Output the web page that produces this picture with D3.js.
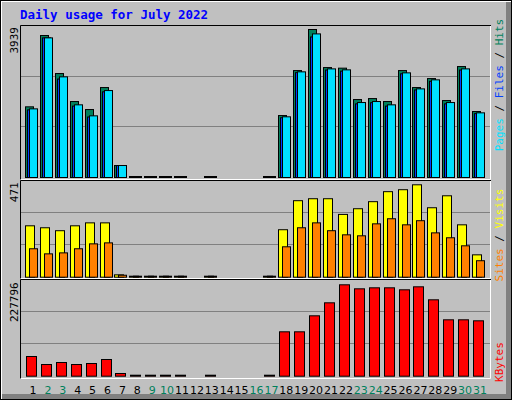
<!DOCTYPE html>
<html>
<meta charset="utf-8">
<style>
body { margin:0; background:#c0c0c0; }
text { font-family: 'DejaVu Sans Mono', monospace; }
</style>
<script src="https://d3js.org/d3.v7.min.js"></script>
<body>
<div id="chart"></div>
<script>
var days = d3.range(1, 32);
var weekend = [2, 3, 9, 10, 16, 17, 23, 24, 30, 31];
var hits  = [1881,3779,2767,2022,1809,2394,319,20,20,20,20,0,20,0,0,0,20,1649,2846,3939,2926,2910,2075,2101,2022,2846,2394,2633,2048,2953,1756];
var files = [1800,3716,2620,1900,1610,2280,319,20,20,20,20,0,20,0,0,0,20,1590,2790,3740,2860,2830,1960,1990,1900,2760,2330,2560,1960,2860,1700];
var pages = [1827,3716,2679,1934,1641,2314,319,20,20,20,20,0,20,0,0,0,20,1615,2812,3822,2891,2865,1995,2022,1934,2785,2359,2599,1995,2891,1721];
var visits = [262,252,237,262,277,277,12,2,2,2,2,0,2,0,0,0,2,242,390,400,400,320,349,385,436,446,471,354,415,267,114];
var sites  = [145,119,124,145,170,175,10,2,2,2,2,0,2,0,0,0,2,155,252,277,237,216,211,272,298,267,288,226,201,160,84];
var kbytes = [49100,29150,34140,29150,31650,41620,6730,600,600,600,600,0,600,0,0,0,600,110640,110640,150520,182910,227796,217800,220290,220290,215310,222790,190390,140550,140550,138060];
var maxLabels = ["3939", "471", "227796"];

var W = 512, H = 400;
var svg = d3.select("#chart").append("svg").attr("width", W).attr("height", H);

// frame
svg.append("rect").attr("x", 0).attr("y", 0).attr("width", W).attr("height", H).attr("fill", "#c0c0c0");
svg.append("path").attr("d", "M1,399 V1 H511").attr("fill", "none").attr("stroke", "#fff").attr("stroke-width", 2);
svg.append("path").attr("d", "M2,396.5 H508.5 V2").attr("fill", "none").attr("stroke", "#808080").attr("stroke-width", 5);
svg.append("rect").attr("x", 0.5).attr("y", 0.5).attr("width", W - 1).attr("height", H - 1).attr("fill", "none").attr("stroke", "#000");

svg.append("text").attr("x", 20).attr("y", 19).attr("fill", "#0000ff")
   .attr("font-size", 12.5).attr("font-weight", "bold").text("Daily usage for July 2022");

var x = d3.scaleLinear().domain([1, 31]).range([33, 480]);

var panels = [
  { top: 25, bottom: 180, base: 177, maxY: 29, max: 3939 },
  { top: 180, bottom: 279, base: 276.7, maxY: 184.3, max: 471 },
  { top: 279, bottom: 379, base: 375.7, maxY: 284.3, max: 227796 }
];

panels.forEach(function(p, i) {
  p.y = d3.scaleLinear().domain([0, p.max]).range([p.base, p.maxY]);
  var g = svg.append("g");
  g.append("rect").attr("x", 20).attr("y", p.top).attr("width", 471).attr("height", p.bottom - p.top).attr("fill", "#c0c0c0");
  var h = p.bottom - p.top;
  [1/3, 2/3].forEach(function(f) {
    var yy = Math.round(p.base - (p.base - p.top) * f) + 0.5;
    g.append("line").attr("x1", 21).attr("x2", 490).attr("y1", yy).attr("y2", yy)
     .attr("stroke", "#808080");
  });
  g.append("path").attr("d", "M20.5," + (p.bottom) + " V" + (p.top + 0.5) + " H491")
   .attr("fill", "none").attr("stroke", "#000");
  g.append("path").attr("d", "M20.5," + (p.bottom - 0.5) + " H490.5 V" + (p.top + 1))
   .attr("fill", "none").attr("stroke", "#fff");
  var lab = maxLabels[i];
  var ly = p.maxY - 2;
  g.append("text").attr("transform", "translate(18," + ly + ") rotate(-90)")
   .attr("text-anchor", "end").attr("font-size", 11).attr("fill", "#000").text(lab);
});

function bars(data, p, dx, w, color) {
  svg.append("g").selectAll("rect").data(days.filter(function(d) { return data[d - 1] > 0; }))
    .enter().append("rect")
    .attr("x", function(d) { return Math.round(x(d)) + dx + 0.5; })
    .attr("y", function(d) { return Math.min(p.y(data[d - 1]), p.base - 1) + 0.5; })
    .attr("width", w)
    .attr("height", function(d) { return Math.max(1, p.base - p.y(data[d - 1])); })
    .attr("fill", color).attr("stroke", "#000");
}

bars(hits, panels[0], -8, 8, "#00805c");
bars(files, panels[0], -6, 8, "#0040ff");
bars(pages, panels[0], -4, 8, "#00e0ff");
bars(visits, panels[1], -8, 9, "#ffff00");
bars(sites, panels[1], -4, 8, "#ff8000");
bars(kbytes, panels[2], -7, 10, "#ff0000");

// right legends
function legend(parts, cy) {
  var t = svg.append("text").attr("transform", "translate(503," + cy + ") rotate(-90)")
    .attr("text-anchor", "middle").attr("font-size", 11);
  parts.forEach(function(pt) { t.append("tspan").attr("fill", pt[1]).text(pt[0]); });
}
legend([["Pages", "#00e0ff"], [" / ", "#000"], ["Files", "#0040ff"], [" / ", "#000"], ["Hits", "#00805c"]], 85);
legend([["Sites", "#ff8000"], [" / ", "#000"], ["Visits", "#ffff00"]], 235);
legend([["KBytes", "#ff0000"]], 362);

svg.append("g").selectAll("text").data(days).enter().append("text")
  .attr("x", function(d) { return x(d); }).attr("y", 394)
  .attr("text-anchor", "middle").attr("font-size", 11)
  .attr("fill", function(d) { return weekend.indexOf(d) >= 0 ? "#00805c" : "#000"; })
  .style("font-family", "'DejaVu Sans', sans-serif")
  .text(function(d) { return d; });
</script>
</body>
</html>
